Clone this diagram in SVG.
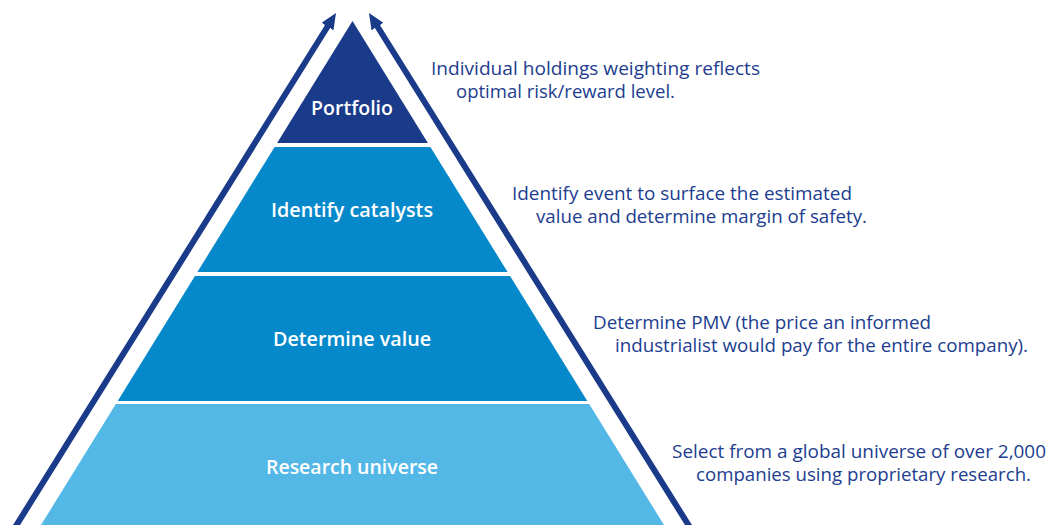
<svg xmlns="http://www.w3.org/2000/svg" width="1060" height="525" viewBox="0 0 1060 525">
  <style>
    .navy { fill: #1a3a8a; }
    .mid { fill: #0689ca; }
    .light { fill: #54b8e7; }
    .label { font-family: "Open Sans", "Noto Sans", "Liberation Sans", sans-serif; font-weight: 600; font-size: 20px; fill: #ffffff; text-anchor: middle; }
    .desc { font-family: "Open Sans", "Noto Sans", "Liberation Sans", sans-serif; font-size: 18px; fill: #213d8f; }
    .conn { stroke: #1a3a8a; stroke-width: 6; fill: none; }
  </style>
  <defs>
    <marker id="arrow" markerUnits="userSpaceOnUse" markerWidth="16" markerHeight="14" refX="6" refY="7" orient="auto">
      <path d="M0,0 L16,7 L0,14 z" fill="#1a3a8a"/>
    </marker>
  </defs>
  <rect width="1060" height="525" fill="#ffffff"/>

  <g id="connectors">
    <line class="conn" x1="13.4" y1="530" x2="330.7" y2="21.5" marker-end="url(#arrow)"/>
    <line class="conn" x1="691.6" y1="530" x2="374.3" y2="21.5" marker-end="url(#arrow)"/>
  </g>

  <g id="portfolio">
    <polygon class="navy" points="352.5,21 427.9,143 277.1,143"/>
    <text class="label" x="352" y="115" textLength="82" lengthAdjust="spacingAndGlyphs">Portfolio</text>
    <text class="desc" x="431" y="75" textLength="329" lengthAdjust="spacingAndGlyphs">Individual holdings weighting reflects</text>
    <text class="desc" x="456" y="97.5" textLength="219" lengthAdjust="spacingAndGlyphs">optimal risk/reward level.</text>
  </g>

  <g id="identify-catalysts">
    <polygon class="mid" points="274.6,147 430.4,147 507.6,272 197.4,272"/>
    <text class="label" x="352" y="217" textLength="162" lengthAdjust="spacingAndGlyphs">Identify catalysts</text>
    <text class="desc" x="512" y="200" textLength="340" lengthAdjust="spacingAndGlyphs">Identify event to surface the estimated</text>
    <text class="desc" x="536" y="223" textLength="331" lengthAdjust="spacingAndGlyphs">value and determine margin of safety.</text>
  </g>

  <g id="determine-value">
    <polygon class="mid" points="194.9,276 510.1,276 587.3,401 117.7,401"/>
    <text class="label" x="352" y="346" textLength="158" lengthAdjust="spacingAndGlyphs">Determine value</text>
    <text class="desc" x="593" y="329" textLength="338" lengthAdjust="spacingAndGlyphs">Determine PMV (the price an informed</text>
    <text class="desc" x="615" y="352" textLength="413" lengthAdjust="spacingAndGlyphs">industrialist would pay for the entire company).</text>
  </g>

  <g id="research-universe">
    <polygon class="light" points="115.8,404 589.2,404 667.1,530 37.9,530"/>
    <text class="label" x="352" y="474" textLength="172" lengthAdjust="spacingAndGlyphs">Research universe</text>
    <text class="desc" x="672" y="458" textLength="374" lengthAdjust="spacingAndGlyphs">Select from a global universe of over 2,000</text>
    <text class="desc" x="696" y="481" textLength="335" lengthAdjust="spacingAndGlyphs">companies using proprietary research.</text>
  </g>
</svg>
